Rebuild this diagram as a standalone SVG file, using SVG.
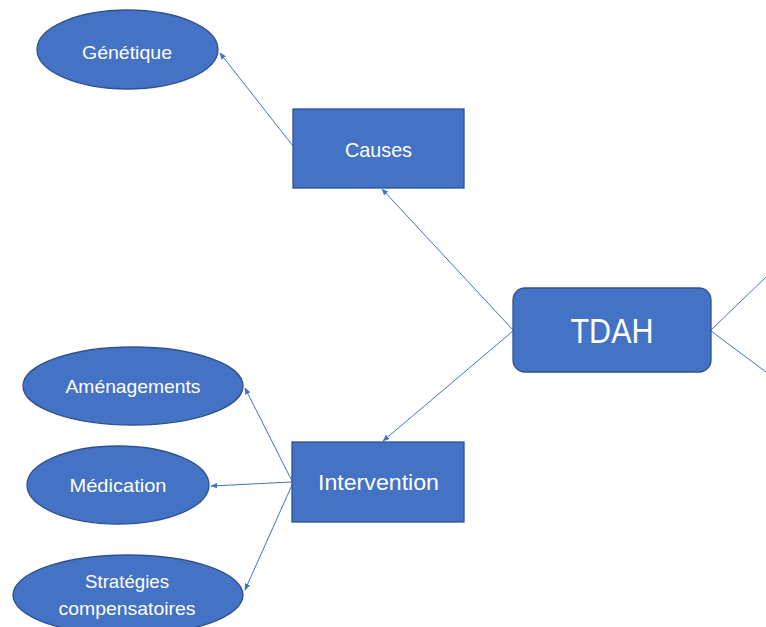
<svg xmlns="http://www.w3.org/2000/svg" width="766" height="627" viewBox="0 0 766 627">
<style>
.shape{fill:#4472C4;stroke:#2F528F;stroke-width:1.3}
.lbl{fill:#ffffff;font-family:"Liberation Sans",Arial,sans-serif;text-anchor:middle}
.conn{stroke:#4472C4;stroke-width:1;fill:none}
</style>
<defs>
<marker id="arr" viewBox="0 0 10 10" refX="9" refY="5" markerWidth="7" markerHeight="7" orient="auto-start-reverse" markerUnits="userSpaceOnUse">
<path d="M0,1 L10,5 L0,9 z" fill="#4472C4"/>
</marker>
</defs>
<rect width="766" height="627" fill="#ffffff"/>
<g id="connectors">
<line class="conn" x1="293" y1="146" x2="220" y2="53" marker-end="url(#arr)"/>
<line class="conn" x1="513" y1="330" x2="382" y2="189" marker-end="url(#arr)"/>
<line class="conn" x1="513" y1="331" x2="383" y2="441" marker-end="url(#arr)"/>
<line class="conn" x1="711" y1="330" x2="766" y2="277"/>
<line class="conn" x1="711" y1="331" x2="766" y2="372"/>
<line class="conn" x1="292" y1="481" x2="245" y2="388" marker-end="url(#arr)"/>
<line class="conn" x1="292" y1="482" x2="211" y2="486" marker-end="url(#arr)"/>
<line class="conn" x1="292" y1="485" x2="245" y2="590" marker-end="url(#arr)"/>
</g>
<g id="genetique">
<ellipse class="shape" cx="127.5" cy="49.5" rx="90.5" ry="39.5"/>
<text class="lbl" x="127" y="59" font-size="19" textLength="90" lengthAdjust="spacingAndGlyphs">Génétique</text>
</g>
<g id="causes">
<rect class="shape" x="293" y="109" width="171" height="79"/>
<text class="lbl" x="378.5" y="157" font-size="21" textLength="67" lengthAdjust="spacingAndGlyphs">Causes</text>
</g>
<g id="tdah">
<rect class="shape" x="513" y="288" width="198" height="84" rx="12" ry="12"/>
<text class="lbl" x="612" y="343" font-size="35" textLength="83" lengthAdjust="spacingAndGlyphs">TDAH</text>
</g>
<g id="intervention">
<rect class="shape" x="292" y="442" width="172" height="80"/>
<text class="lbl" x="378.5" y="490" font-size="22" textLength="121" lengthAdjust="spacingAndGlyphs">Intervention</text>
</g>
<g id="amenagements">
<ellipse class="shape" cx="133" cy="386" rx="110" ry="39"/>
<text class="lbl" x="133" y="393" font-size="19" textLength="135" lengthAdjust="spacingAndGlyphs">Aménagements</text>
</g>
<g id="medication">
<ellipse class="shape" cx="118" cy="485" rx="91" ry="39"/>
<text class="lbl" x="118" y="492" font-size="19" textLength="97" lengthAdjust="spacingAndGlyphs">Médication</text>
</g>
<g id="strategies">
<ellipse class="shape" cx="128" cy="595" rx="115" ry="40"/>
<text class="lbl" x="127" y="588" font-size="19" textLength="84" lengthAdjust="spacingAndGlyphs">Stratégies</text>
<text class="lbl" x="127" y="615" font-size="19" textLength="137" lengthAdjust="spacingAndGlyphs">compensatoires</text>
</g>
</svg>
